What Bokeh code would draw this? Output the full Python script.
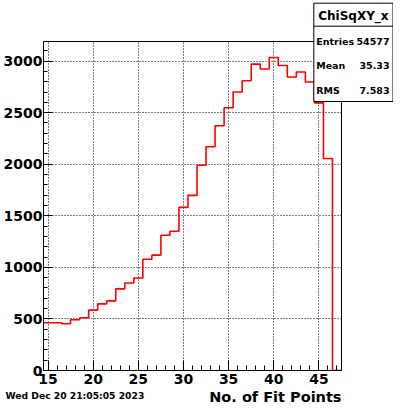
from bokeh.plotting import figure
from bokeh.models import Range1d, SingleIntervalTicker
from bokeh.core.properties import value
from bokeh.embed import file_html
from bokeh.resources import INLINE

# ---- data ----
bin_centers = list(range(15, 48))
counts = [463, 463, 453, 492, 511, 585, 646, 675, 791, 849, 897,
          1078, 1119, 1312, 1350, 1582, 1698, 1990, 2170, 2373, 2547,
          2701, 2810, 2971, 2923, 3035, 2958, 2846, 2894, 2797, 2595,
          2055, 0]
bin_width = 1.0
y_max = 3190
x_title = "No. of Fit Points"
date_text = "Wed Dec 20 21:05:05 2023"
stats_title = "ChiSqXY_x"
stats_names = ["Entries", "Mean", "RMS"]
stats_values = ["54577", "35.33", "7.583"]

FONT = "DejaVu Sans"
FW, FH = 298, 329  # frame size in px

edges = [c - bin_width / 2 for c in bin_centers] + [bin_centers[-1] + bin_width / 2]
step_y = counts + [counts[-1]]
x0, x1 = edges[0], edges[-1]

p = figure(frame_width=FW, frame_height=FH,
           x_range=Range1d(x0, x1), y_range=Range1d(0, y_max),
           output_backend="svg", toolbar_location=None,
           min_border_left=0, min_border_right=52,
           min_border_top=41, min_border_bottom=35)
p.background_fill_color = "white"
p.border_fill_color = "white"
p.outline_line_color = "black"
p.outline_line_width = 1

p.step(edges, step_y, mode="after", line_color="#ff0000", line_width=1.6)

# axes
p.xaxis.ticker = SingleIntervalTicker(interval=5, num_minor_ticks=5)
p.yaxis.ticker = SingleIntervalTicker(interval=500, num_minor_ticks=5)
for ax in (p.xaxis[0], p.yaxis[0]):
    ax.axis_line_color = "black"
    ax.major_tick_line_color = "black"
    ax.minor_tick_line_color = "black"
    ax.major_tick_out = 0
    ax.minor_tick_out = 0
    ax.major_label_text_font = FONT
    ax.major_label_text_font_style = "bold"
    ax.major_label_text_font_size = "14px"
    ax.major_label_text_color = "black"
p.xaxis.major_tick_in = 10
p.xaxis.minor_tick_in = 5
p.yaxis.major_tick_in = 9
p.yaxis.minor_tick_in = 4
p.xaxis.major_label_standoff = 3
p.yaxis.major_label_standoff = 1

for g in (p.xgrid[0], p.ygrid[0]):
    g.grid_line_color = "black"
    g.grid_line_dash = "1 2"
    g.grid_line_width = 1

# helpers: pixel offsets relative to the frame -> data coords (via the linear ranges)
def from_right(dx):
    return x1 + dx * (x1 - x0) / FW

def from_left(dx):
    return x0 + dx * (x1 - x0) / FW

def from_top(dy):  # dy > 0 means downwards
    return y_max - dy * y_max / FH

def txt(x, y, s, size, align="left", baseline="middle"):
    r = p.text(x=[x], y=[y], text=[s], text_font=value(FONT),
               text_font_style="bold", text_font_size=size,
               text_align=align, text_baseline=baseline, text_color="black")
    r.level = "overlay"
    return r

# bottom texts
txt(from_right(0), from_top(FH + 26), x_title, "14.5px", "right", "middle")
txt(from_left(-38), from_top(FH + 25), date_text, "9.2px", "left", "middle")

# stats box
bl, br = from_right(-27.7), from_right(51.5)
bt, bb = from_top(-38.3), from_top(60)
bd = from_top(-15.3)
r = p.quad(left=[bl], right=[br], top=[bt], bottom=[bb],
           fill_color="white", line_color="black", line_width=1)
r.level = "overlay"
r = p.segment(x0=[bl], x1=[br], y0=[bd], y1=[bd], line_color="black", line_width=1)
r.level = "overlay"
txt((bl + br) / 2, from_top(-25.5), stats_title, "12px", "center", "middle")
for name, val, dy in zip(stats_names, stats_values, [-0.3, 24, 49]):
    txt(from_right(-25.3), from_top(dy), name, "9.5px", "left", "middle")
    txt(from_right(48), from_top(dy), val, "9.5px", "right", "middle")

open("out.html", "w").write(file_html(p, INLINE))
